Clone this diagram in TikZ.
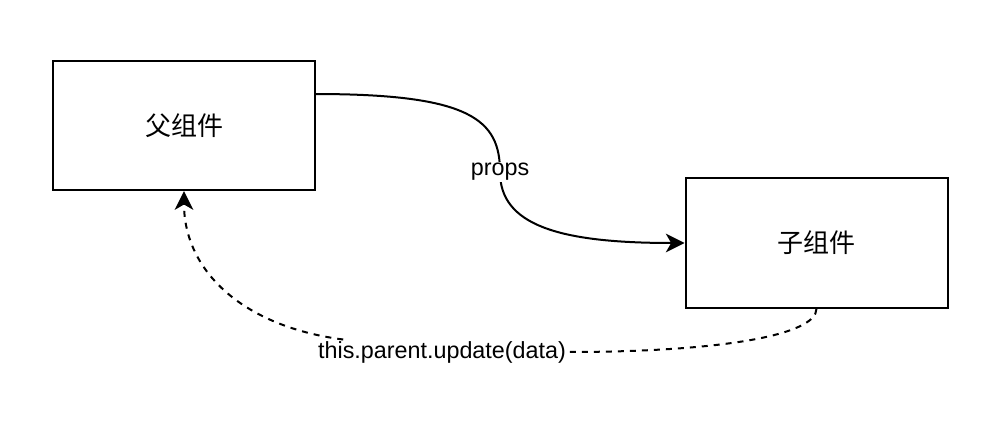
\documentclass[tikz,border=0pt]{standalone}
\usepackage{fontspec}
\setmainfont{Liberation Sans}
\newfontfamily\cjk{Noto Sans CJK SC}
\usetikzlibrary{arrows.meta}
\tikzstyle{arrow} = [line width=1.5pt,-{Stealth[length=14pt,width=14pt,inset=4pt]}]

\begin{document}
\begin{tikzpicture}
        [
            x=0.75pt, y=-0.75pt,
            box/.style={rectangle,draw=black,line width=1.5pt,minimum width=196.5pt,minimum height=97pt,font=\cjk\fontsize{19.5pt}{22pt}\selectfont},
            lbl/.style={fill=white,inner sep=1pt,font=\fontsize{17.5pt}{20pt}\selectfont},
            back/.style={arrow,dash pattern=on 4.5pt off 4.5pt},
        ]
    \useasboundingbox (0,0) rectangle (996,438);

    \node[box] (parent) at (184,125.5){父组件};
    \node[box] (child) at (816.5,243){子组件};

    % props
    \draw[arrow] ([yshift=23.6pt]parent.east) .. controls +(155,0) and +(0,-52) .. (500,172)
        node[lbl] (props){props}
        .. controls +(0,53) and +(-126,0) .. (child.west);

    % update back to parent
    \node[lbl] (update) at (442,352){this.parent.update(data)};
    \draw[back,-] (child.south) .. controls +(0,27) and +(150,0) .. (update.east);
    \draw[back] ([xshift=20pt]update.north west) .. controls +(-100,-13) and +(0,80) .. (parent.south);
\end{tikzpicture}
\end{document}
